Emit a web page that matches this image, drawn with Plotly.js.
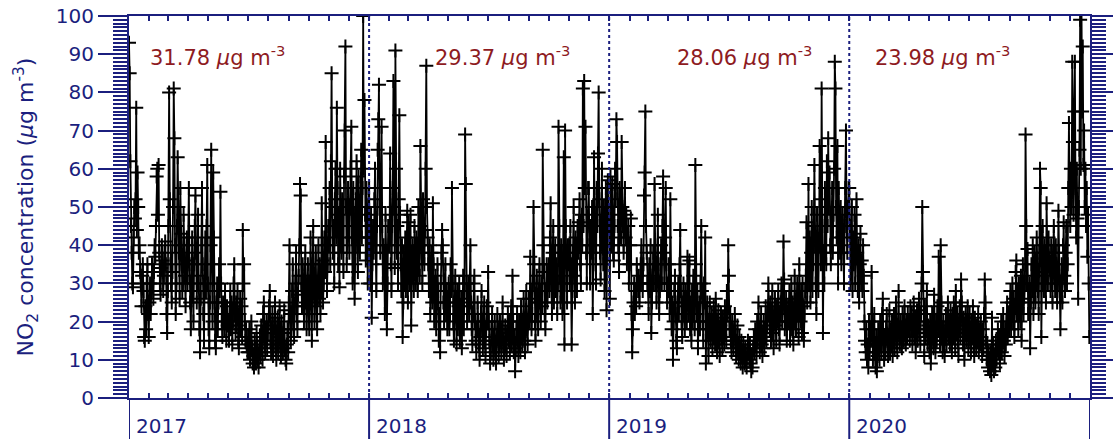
<!DOCTYPE html>
<html>
<head>
<meta charset="utf-8">
<script src="https://cdn.plot.ly/plotly-3.0.1.min.js"></script>
<style>html,body{margin:0;padding:0;background:#fff;}#chart{width:1113px;height:439px;}</style>
</head>
<body>
<div id="chart"></div>
<script>
// Daily NO2 concentration (µg m^-3), month by month
const no2_2017 = [
  93,85,62,45,38,30,29,42,50,47,52,76,44,59,50,38,40,33,30,24,32,35,28,16,15,24,18,30,35,22,16,
  25,30,22,28,35,30,26,33,40,37,45,58,60,48,61,38,30,27,34,40,36,28,32,38,41,35,22,17,
  28,45,80,52,35,30,25,33,50,81,68,40,22,30,45,63,50,38,26,55,43,35,28,30,48,40,32,24,36,42,30,
  40,55,35,25,18,30,42,28,20,35,45,53,38,25,32,48,30,18,12,26,40,55,35,22,15,30,42,28,45,61,
  30,18,13,25,40,65,35,20,59,42,25,15,13,22,30,18,25,35,28,54,30,20,16,25,22,18,28,20,15,24,19,
  20,15,22,28,18,25,14,20,30,35,22,17,25,19,28,15,13,22,26,18,24,16,44,30,35,20,15,18,14,12,
  16,12,18,10,14,20,13,9,11,8,15,12,9,17,13,10,8,12,16,11,19,14,10,22,25,15,12,18,20,13,17,
  20,24,28,15,12,18,22,11,14,19,25,13,10,16,21,12,18,24,14,11,20,15,12,17,23,13,10,9,14,18,12,
  25,40,22,15,18,28,35,20,16,24,30,38,22,18,27,32,40,56,53,30,24,35,28,20,32,38,25,18,30,35,
  22,18,30,42,25,15,35,45,28,20,32,38,24,18,30,40,26,35,22,28,51,36,25,30,42,33,67,40,28,35,45,
  40,55,35,62,85,50,38,45,30,52,60,42,76,55,35,48,29,60,45,38,52,40,33,58,70,92,50,35,42,55,
  45,38,50,60,71,42,30,55,48,26,35,52,62,40,33,58,45,38,50,65,42,55,100,60,78,48,36,55,42,30,50
];
const no2_2018 = [
  55,42,30,48,21,35,45,38,52,60,40,28,45,65,73,82,50,38,55,71,45,30,40,35,22,48,38,18,30,45,40,
  40,64,35,28,45,55,83,50,34,91,60,38,45,30,52,74,48,35,28,40,16,25,38,30,42,28,35,49,
  25,46,38,30,48,19,32,40,35,28,45,38,30,42,35,28,50,40,32,66,45,38,30,52,40,35,44,60,87,50,42,
  35,28,40,22,30,38,25,51,35,20,28,32,18,25,35,28,15,22,12,30,38,44,40,25,20,30,35,22,28,18,
  25,30,18,22,35,28,55,30,20,15,25,32,22,14,28,18,24,30,15,20,26,13,22,32,18,28,69,56,30,20,24,
  30,22,28,40,25,18,14,22,30,32,20,15,12,18,25,20,14,10,16,22,28,18,13,20,25,15,11,18,24,20,
  33,20,15,9,12,18,22,14,10,16,20,12,9,15,22,18,11,14,20,16,12,18,25,14,10,13,19,15,11,17,22,
  15,20,12,18,24,14,32,20,12,16,7,13,18,22,15,11,20,16,12,24,18,14,20,26,15,12,22,28,18,14,20,
  26,20,37,28,18,22,30,50,35,20,15,25,32,22,18,28,35,25,20,30,24,65,40,33,22,18,28,35,25,30,
  35,28,42,51,30,22,38,45,25,32,40,28,35,22,30,71,45,32,25,40,30,22,38,63,14,70,45,30,25,40,35,
  40,30,45,35,14,28,38,50,32,25,42,35,28,45,38,46,52,35,30,48,40,81,45,83,55,71,38,30,45,55,
  55,40,30,45,38,50,22,35,63,48,40,30,55,45,64,80,52,38,31,45,60,40,35,50,28,45,55,23,40,57,45
];
const no2_2019 = [
  45,26,58,50,40,56,38,36,45,60,52,73,67,45,40,33,55,48,42,67,50,45,38,49,55,42,48,35,40,45,30,
  35,40,47,22,12,18,25,30,22,28,24,35,30,28,32,25,30,35,40,30,28,35,53,59,75,45,38,30,
  30,22,35,28,40,17,25,32,38,30,56,40,30,25,35,48,30,22,28,35,40,30,45,58,38,30,42,55,35,25,30,
  28,35,22,52,30,18,25,10,20,28,32,22,15,13,25,30,22,35,44,28,20,16,25,30,22,18,28,24,20,37,
  30,22,36,18,25,15,28,20,32,25,18,61,35,22,28,13,20,25,18,30,45,28,20,15,30,25,42,9,20,25,18,
  11,20,25,15,18,22,13,16,24,20,14,26,18,12,20,23,15,11,19,22,16,13,21,18,14,24,20,15,28,22,
  40,32,18,22,15,12,20,16,13,18,22,15,11,14,19,12,10,16,13,9,15,11,8,14,12,9,13,10,8,12,15,
  12,10,14,9,7,11,8,13,16,12,18,14,11,20,15,25,18,12,16,22,14,11,17,20,13,16,24,15,19,22,30,
  22,18,25,15,20,28,17,13,22,26,19,15,24,20,28,18,14,22,25,30,20,24,41,31,18,22,26,15,20,24,
  20,28,15,22,30,18,25,14,20,32,24,18,26,30,22,16,35,25,20,28,17,30,24,15,22,28,32,46,25,30,56,
  30,42,25,38,50,28,35,45,61,40,30,22,48,35,28,40,66,52,35,81,45,17,38,30,55,40,35,62,45,68,
  50,59,40,35,45,55,38,48,60,88,81,50,42,66,30,55,45,38,50,35,42,48,40,30,45,55,70,45,38,50,55
];
const no2_2020 = [
  55,45,30,38,50,28,42,35,48,30,45,52,38,28,40,25,35,43,30,36,28,40,32,20,15,12,18,10,14,8,20,
  12,18,15,33,20,10,14,22,12,8,16,7,11,18,14,10,20,15,12,22,26,14,10,16,12,18,22,15,11,
  15,23,12,18,14,20,11,16,22,13,17,25,15,12,19,28,16,14,20,18,13,22,17,15,24,19,14,20,16,22,18,
  20,15,24,18,22,14,19,25,16,21,12,18,23,15,20,26,17,14,22,30,50,33,18,11,24,16,20,28,14,19,
  16,12,20,9,15,22,18,13,27,17,12,20,15,24,18,37,22,14,40,25,16,12,20,15,11,18,22,14,19,25,16,
  20,14,23,18,12,22,16,25,19,13,28,17,22,15,11,20,24,16,31,25,18,14,21,10,17,22,15,19,24,13,
  18,22,15,12,20,16,24,14,11,21,17,13,19,15,22,12,18,14,20,16,11,18,13,22,31,25,15,10,14,8,12,
  10,7,12,6,21,9,14,7,11,8,15,10,13,18,12,16,9,14,20,12,17,22,15,11,18,14,20,25,16,22,18,
  22,28,18,25,30,20,26,16,24,33,36,22,28,18,30,25,20,32,15,26,35,22,28,30,69,45,30,39,22,28,
  30,13,25,35,28,40,22,32,38,25,30,42,35,28,22,38,60,55,16,30,45,35,28,40,33,25,51,38,30,42,35,
  35,28,40,30,25,38,45,32,28,40,35,25,30,49,38,28,18,30,35,25,40,46,32,28,38,45,30,35,55,72,
  55,45,60,50,88,67,48,75,88,55,42,60,47,26,50,65,99,60,105,75,92,61,70,50,60,45,55,37,48,30,16
];

const years = ['2017', '2018', '2019', '2020'];
const annualMeans = ['31.78', '29.37', '28.06', '23.98'];
const meanLabelX = [0.020, 0.316, 0.568, 0.774];

const NAVY = '#1b1f7e';
const RED = '#8e1b1f';

// build daily dates
const values = [].concat(no2_2017, no2_2018, no2_2019, no2_2020);
const start = Date.UTC(2017, 0, 1);
const dates = values.map((v, i) => new Date(start + i * 86400000).toISOString().slice(0, 10));

const trace = {
  x: dates, y: values, type: 'scatter', mode: 'lines+markers',
  line: {color: '#000', width: 1.8},
  marker: {symbol: 'cross-thin', size: 10, line: {color: '#000', width: 2}},
  cliponaxis: true, hoverinfo: 'skip'
};

const shapes = [];
const annotations = [];
const boundaries = ['2017-01-01', '2018-01-01', '2019-01-01', '2020-01-01', '2021-01-01'];
boundaries.forEach((d, i) => {
  // long year tick below the axis
  shapes.push({type: 'line', xref: 'x', yref: 'paper', x0: d, x1: d, y0: -0.11, y1: 0,
    line: {color: NAVY, width: 2}});
  if (i > 0 && i < 4) {
    shapes.push({type: 'line', xref: 'x', yref: 'paper', x0: d, x1: d, y0: 0, y1: 1,
      line: {color: NAVY, width: 2, dash: 'dot'}});
  }
});
years.forEach((y, i) => {
  annotations.push({text: y, xref: 'x', yref: 'paper', x: y + '-01-01', y: -0.072,
    xanchor: 'left', yanchor: 'middle', xshift: 5, showarrow: false,
    font: {family: 'DejaVu Sans', size: 20, color: NAVY}});
  annotations.push({text: annualMeans[i] + ' <i>μ</i>g m<sup>-3</sup>', xref: 'paper', yref: 'paper',
    x: meanLabelX[i], y: 0.895, xanchor: 'left', yanchor: 'middle', showarrow: false,
    font: {family: 'DejaVu Sans', size: 21, color: RED}});
});

const layout = {
  width: 1113, height: 439,
  margin: {l: 129, r: 23, t: 16, b: 41, pad: 0},
  paper_bgcolor: '#fff', plot_bgcolor: '#fff',
  showlegend: false,
  xaxis: {
    type: 'date', range: ['2017-01-01', '2021-01-01'],
    showgrid: false, zeroline: false,
    showline: true, linecolor: NAVY, linewidth: 2, mirror: 'ticks',
    ticks: 'inside', ticklen: 5, tickwidth: 2, tickcolor: NAVY,
    dtick: 'M1', tick0: '2017-01-01', showticklabels: false
  },
  yaxis: {
    range: [0, 100], dtick: 10, tick0: 0,
    showgrid: false, zeroline: false,
    showline: true, linecolor: NAVY, linewidth: 2, mirror: 'ticks',
    ticks: 'outside', ticklen: 29, tickwidth: 2, tickcolor: NAVY,
    minor: {dtick: 1, ticklen: 14, tickwidth: 2, tickcolor: NAVY, ticks: 'outside'},
    tickfont: {family: 'DejaVu Sans', size: 20, color: NAVY},
    title: {text: 'NO<sub>2</sub> concentration (<i>μ</i>g m<sup>-3</sup>)',
      font: {family: 'DejaVu Sans', size: 22, color: NAVY}, standoff: 16}
  },
  shapes: shapes,
  annotations: annotations
};

Plotly.newPlot('chart', [trace], layout, {staticPlot: true, displayModeBar: false});
</script>
</body>
</html>
